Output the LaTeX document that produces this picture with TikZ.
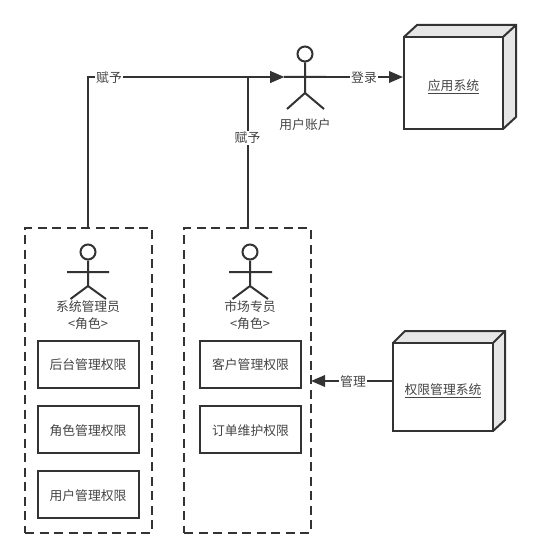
\documentclass[tikz,border=0pt]{standalone}
\usepackage{fontspec}
\setmainfont{Noto Sans CJK SC}
\usetikzlibrary{arrows.meta}
\newdimen\pxu
\pxu=0.75pt
\definecolor{ink}{HTML}{333333}
\definecolor{txt}{HTML}{444444}
\definecolor{side}{HTML}{E6E6E6}
\tikzset{
  lbl/.style={font=\fontsize{9.6pt}{12pt}\selectfont,text=txt,inner sep=0pt},
  edgelbl/.style={lbl,fill=white,inner xsep=1pt,inner ysep=1pt},
  perm/.style={draw=ink,line width=1.5pt,fill=white,lbl,text depth=0pt,minimum width=101\pxu,minimum height=47\pxu},
  group/.style={draw=ink,line width=1.5pt,dash pattern=on 9\pxu off 5.5\pxu,inner sep=0pt,minimum width=126.5\pxu,minimum height=305\pxu},
  actorline/.style={draw=ink,line width=1.5pt},
  conn/.style={draw=ink,line width=1.5pt},
  arrowed/.style={conn,-{Triangle[length=10.5pt,width=8.6pt,fill=ink]}},
  cubeface/.style={draw=ink,line width=1.5pt,line join=miter,fill=side},
  cubefront/.style={draw=ink,line width=1.5pt,fill=white,lbl,text depth=0pt},
}
\begin{document}
\begin{tikzpicture}[x=0.75pt,y=-0.75pt]
\useasboundingbox[fill=white] (0,0) rectangle (540,559);

% role groups
\node[group] (g1) at (88.25,380.5) {};
\node[group] (g2) at (247.5,380.5) {};

% application cube
\fill[side] (404,37) -- (417,25) -- (516,25) -- (516,117) -- (503,129) -- (503,37) -- cycle;
\draw[cubeface] (404,37) -- (417,25) -- (516,25) -- (516,117) -- (503,129);
\draw[cubeface,fill=none] (503,37) -- (516,25);
\node[cubefront,text height=11.3pt,minimum width=99\pxu,minimum height=92\pxu] (app) at (453.5,83) {\underline{应用系统}};

% permission system cube
\fill[side] (393,343) -- (405,331) -- (505,331) -- (505,420) -- (493,431) -- (493,343) -- cycle;
\draw[cubeface] (393,343) -- (405,331) -- (505,331) -- (505,420) -- (493,431);
\draw[cubeface,fill=none] (493,343) -- (505,331);
\node[cubefront,text height=11.7pt,minimum width=100\pxu,minimum height=88\pxu] (auth) at (443,387) {\underline{权限管理系统}};

% permission boxes
\node[perm,text height=8.5pt] (p1) at (88,364) {后台管理权限};
\node[perm,text height=9.7pt] (p2) at (88,429) {角色管理权限};
\node[perm,text height=9.7pt] (p3) at (88,494.5) {用户管理权限};
\node[perm,text height=8.5pt] (p4) at (250.5,364) {客户管理权限};
\node[perm,text height=9.7pt] (p5) at (250.5,429) {订单维护权限};

% actors
\coordinate (uL) at (284,77);
\coordinate (uR) at (326,77);
\node[circle,draw=ink,line width=1.5pt,minimum size=15\pxu,inner sep=0pt] (uh) at (305,54) {};
\draw[actorline] (uh.south) -- (305,93) (uL) -- (uR) (287,109) -- (305,93) -- (324,109);
\node[lbl] (ul) at (305,125) {用户账户};

\node[circle,draw=ink,line width=1.5pt,minimum size=15\pxu,inner sep=0pt] (a1h) at (88,252) {};
\draw[actorline] (a1h.south) -- (88,286) (67,272) -- (109,272) (70.5,299) -- (88,286) -- (106,299);
\node[lbl] (a1l) at (88,307) {系统管理员};
\node[lbl] (a1r) at (88,324) {<角色>};

\node[circle,draw=ink,line width=1.5pt,minimum size=15\pxu,inner sep=0pt] (a2h) at (250,252) {};
\draw[actorline] (a2h.south) -- (250,286) (229,272) -- (272,272) (232.5,299) -- (250,286) -- (268,299);
\node[lbl] (a2l) at (250,307) {市场专员};
\node[lbl] (a2r) at (250,324) {<角色>};

% connectors
\coordinate (authOut) at (393,381);
\coordinate (g2In) at (311,381);
\draw[arrowed] (g1.north) |- (uL);
\draw[arrowed] (g2.north) |- (uL);
\draw[arrowed] (uR) -- (app.west |- uR);
\draw[arrowed] (authOut) -- (g2In);

% connector labels
\node[edgelbl] (e1) at (109,78) {赋予};
\node[edgelbl] (e2) at (247.5,138) {赋予};
\node[edgelbl] (e3) at (364,78) {登录};
\node[edgelbl] (e4) at (353,382) {管理};
\end{tikzpicture}
\end{document}
